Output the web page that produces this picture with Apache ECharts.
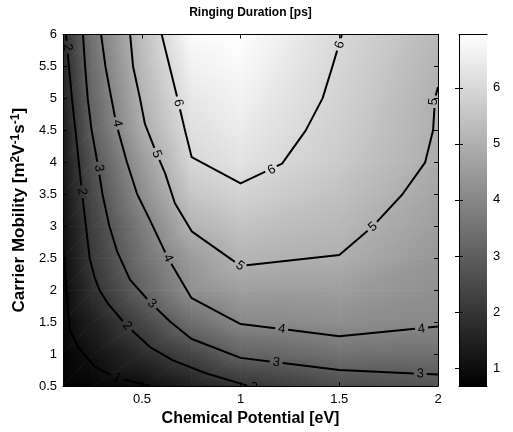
<!DOCTYPE html>
<html><head><meta charset="utf-8">
<script src="https://cdn.jsdelivr.net/npm/echarts@6/dist/echarts.min.js"></script>
<style>html,body{margin:0;padding:0;background:#fff}#c{width:513px;height:432px}</style>
</head><body><div id="c"></div>
<script>
// ---------------- data ----------------
const chemicalPotential = [0.1, 0.25, 0.5, 0.75, 1, 1.5, 2];
const carrierMobility = [0.5, 1, 1.5, 2, 2.5, 3, 3.5, 4, 4.5, 5, 5.5, 6];
// ringing duration [ps], one row per carrier mobility (bottom to top)
const ringingDuration = [
  [0.68, 0.79, 0.97, 1.45, 1.95, 2.53, 2.76],
  [0.76, 1.10, 1.74, 2.39, 3.10, 3.47, 3.43],
  [0.83, 1.44, 2.40, 3.40, 4.03, 4.17, 4.05],
  [0.90, 1.87, 3.09, 4.23, 4.58, 4.57, 4.20],
  [0.97, 2.10, 3.45, 4.49, 5.09, 4.97, 4.37],
  [1.05, 2.25, 3.72, 5.08, 5.48, 5.20, 4.55],
  [1.15, 2.46, 4.14, 5.55, 5.87, 5.43, 4.72],
  [1.25, 2.70, 4.47, 5.95, 6.25, 5.65, 4.90],
  [1.35, 3.04, 4.87, 6.17, 6.45, 5.77, 4.96],
  [1.50, 3.21, 5.05, 6.37, 6.62, 5.87, 4.99],
  [1.65, 3.36, 5.24, 6.60, 6.80, 5.94, 5.08],
  [1.80, 3.53, 5.38, 6.85, 6.95, 6.02, 5.20]
];
const colorRange = [0.68, 6.95];
const xTickValues = [0.5, 1, 1.5, 2];
const colorTickValues = [1, 2, 3, 4, 5, 6];
const contourLevels = [1, 2, 3, 4, 5, 6];
const contour1 = [[0.1,2.71],[0.12,1.89],[0.135,1.38],[0.176,1.11],[0.262,0.80],[0.374,0.625],[0.541,0.5]];
const contour2 = [[0.115,6],[0.13,5.5],[0.145,5.0],[0.163,4.5],[0.18,4.0],[0.197,3.5],[0.216,3.0],[0.235,2.5],[0.26,2.2],[0.285,2.0],[0.33,1.78],[0.424,1.44],[0.541,1.11],[0.657,0.90],[0.824,0.70],[1.04,0.5]];
const contour3 = [[0.201,6],[0.212,5.5],[0.225,5.0],[0.245,4.5],[0.28,3.9],[0.30,3.5],[0.335,3.0],[0.375,2.6],[0.44,2.16],[0.541,1.81],[0.642,1.51],[0.75,1.24],[1.0,0.94],[1.5,0.75],[2.0,0.68]];
const contour4 = [[0.293,6],[0.315,5.5],[0.345,5.0],[0.37,4.6],[0.424,4.0],[0.476,3.5],[0.54,3.1],[0.632,2.5],[0.75,1.88],[1.0,1.47],[1.5,1.28],[2.0,1.43]];
const contour5 = [[0.44,6],[0.455,5.5],[0.49,5.0],[0.515,4.6],[0.575,4.13],[0.617,3.83],[0.667,3.36],[0.752,2.92],[1.0,2.38],[1.5,2.55],[1.67,3.0],[1.82,3.5],[1.935,4.0],[1.975,4.5],[1.985,5.0],[2.0,5.18]];
const contour6 = [[0.6,6],[0.64,5.5],[0.68,5.0],[0.718,4.5],[0.752,4.08],[1.0,3.67],[1.21,3.98],[1.33,4.5],[1.415,5.0],[1.465,5.5],[1.513,6]];
const labels1 = [[0.374,0.625]];
const labels2 = [[0.122,5.80],[0.196,3.54],[0.424,1.44],[1.065,0.48]];
const labels3 = [[0.282,3.91],[0.55,1.79],[1.18,0.87],[1.91,0.69]];
const labels4 = [[0.374,4.61],[0.632,2.5],[1.208,1.39],[1.917,1.39]];
const labels5 = [[0.575,4.13],[0.997,2.38],[1.67,2.99],[1.977,4.95]];
const labels6 = [[0.684,4.93],[1.157,3.88],[1.503,5.84]];

// ---------------- helpers ----------------
const contourLines = [contour1, contour2, contour3, contour4, contour5, contour6];
const contourLabels = [labels1, labels2, labels3, labels4, labels5, labels6];
const FONT = '"Liberation Sans", Arial, Helvetica, sans-serif';
const cMin = colorRange[0], cMax = colorRange[1];

function grayOf(v){
  const t = Math.max(0, Math.min(1, (v - cMin) / (cMax - cMin)));
  const g = Math.round(t * 255);
  return 'rgb(' + g + ',' + g + ',' + g + ')';
}
function tri(p0, p1, p2){
  const d1x = p1.x - p0.x, d1y = p1.y - p0.y, d2x = p2.x - p0.x, d2y = p2.y - p0.y;
  const dv1 = p1.v - p0.v, dv2 = p2.v - p0.v;
  const det = d1x * d2y - d1y * d2x;
  const ga = (dv1 * d2y - dv2 * d1y) / det;
  const gb = (d1x * dv2 - d2x * dv1) / det;
  const g2 = ga * ga + gb * gb;
  let fill;
  if (!isFinite(g2) || g2 < 1e-12) fill = grayOf(p0.v);
  else {
    const s = (cMin - p0.v) / g2, e = (cMax - p0.v) / g2;
    fill = new echarts.graphic.LinearGradient(p0.x + ga * s, p0.y + gb * s, p0.x + ga * e, p0.y + gb * e,
      [{offset: 0, color: '#000'}, {offset: 1, color: '#fff'}], true);
  }
  return {type: 'polygon', shape: {points: [[p0.x, p0.y], [p1.x, p1.y], [p2.x, p2.y]]},
          style: {fill: fill, stroke: fill, lineWidth: 0.8}};
}
function renderCell(params, api){
  const i = api.value(2), j = api.value(3);
  const P = (ii, jj) => { const p = api.coord([chemicalPotential[ii], carrierMobility[jj]]);
    return {x: p[0], y: p[1], v: ringingDuration[jj][ii]}; };
  const a = P(i, j), b = P(i + 1, j), c = P(i + 1, j + 1), d = P(i, j + 1);
  return {type: 'group', children: [tri(a, b, c), tri(a, c, d)]};
}
function renderContour(params, api){
  const k = api.value(2);
  const pts = contourLines[k].map(p => api.coord(p));
  const centers = contourLabels[k].map(p => api.coord(p));
  const R = 6.5;
  const pieces = [];
  let cur = [];
  const flush = () => { if (cur.length >= 2) pieces.push(cur); cur = []; };
  for (let s = 0; s < pts.length - 1; s++) {
    const A = pts[s], B = pts[s + 1];
    const dx = B[0] - A[0], dy = B[1] - A[1];
    const at = t => [A[0] + dx * t, A[1] + dy * t];
    const ex = [];
    centers.forEach(C => {
      const fx = A[0] - C[0], fy = A[1] - C[1];
      const qa = dx * dx + dy * dy, qb = 2 * (fx * dx + fy * dy), qc = fx * fx + fy * fy - R * R;
      const disc = qb * qb - 4 * qa * qc;
      if (qa === 0 || disc <= 0) return;
      const sq = Math.sqrt(disc);
      const t1 = (-qb - sq) / (2 * qa), t2 = (-qb + sq) / (2 * qa);
      if (t2 <= 0 || t1 >= 1) return;
      ex.push([Math.max(0, t1), Math.min(1, t2)]);
    });
    ex.sort((u, w) => u[0] - w[0]);
    let pos = 0;
    const addVis = (t0, t1) => { if (cur.length === 0) cur.push(at(t0)); cur.push(at(t1)); };
    ex.forEach(e => {
      if (e[0] > pos) addVis(pos, e[0]);
      flush();
      pos = Math.max(pos, e[1]);
    });
    if (pos < 1) addVis(pos, 1);
  }
  flush();
  const children = pieces.map(pc => ({type: 'polyline', shape: {points: pc},
    style: {stroke: '#000', lineWidth: 2, fill: null, lineJoin: 'round'}}));
  centers.forEach(C => {
    let best = Infinity, ang = 0;
    for (let s = 0; s < pts.length - 1; s++) {
      const A = pts[s], B = pts[s + 1];
      const dx = B[0] - A[0], dy = B[1] - A[1];
      const L2 = dx * dx + dy * dy || 1;
      let t = ((C[0] - A[0]) * dx + (C[1] - A[1]) * dy) / L2;
      t = Math.max(0, Math.min(1, t));
      const px = A[0] + dx * t - C[0], py = A[1] + dy * t - C[1];
      const d = px * px + py * py;
      if (d < best) { best = d; ang = Math.atan2(-dy, dx); }
    }
    if (ang > Math.PI / 2) ang -= Math.PI;
    if (ang < -Math.PI / 2) ang += Math.PI;
    children.push({type: 'text', x: C[0], y: C[1], rotation: ang,
      style: {text: String(contourLevels[k]), fill: '#000', fontSize: 13, fontFamily: FONT,
              align: 'center', verticalAlign: 'middle', textAlign: 'center', textVerticalAlign: 'middle'}});
  });
  return {type: 'group', children: children};
}
function renderColorbar(params, api){
  const p0 = api.coord([api.value(0), api.value(1)]);
  const p1 = api.coord([api.value(2), api.value(3)]);
  return {type: 'rect', shape: {x: p0[0], y: p1[1], width: p1[0] - p0[0], height: p0[1] - p1[1]},
    style: {fill: new echarts.graphic.LinearGradient(0, 1, 0, 0,
      [{offset: 0, color: '#000'}, {offset: 1, color: '#fff'}])}};
}

const cells = [];
for (let j = 0; j < carrierMobility.length - 1; j++)
  for (let i = 0; i < chemicalPotential.length - 1; i++)
    cells.push([chemicalPotential[i], carrierMobility[j], i, j]);

const axLine = {show: true, lineStyle: {color: '#000', width: 1}};
const lbl = {color: '#000', fontSize: 13, fontFamily: FONT};
const chart = echarts.init(document.getElementById('c'), null, {renderer: 'canvas'});
chart.setOption({
  animation: false,
  backgroundColor: '#fff',
  graphic: [{type: 'text', x: 250.5, y: 13, z: 20,
    style: {text: 'Ringing Duration [ps]', fill: '#000', fontSize: 12, fontWeight: 'bold', fontFamily: FONT,
            align: 'center', verticalAlign: 'middle'}}],
  grid: [
    {left: 63, top: 34.5, width: 375, height: 351.5},
    {left: 459, top: 34.5, width: 28, height: 351.5}
  ],
  xAxis: [
    {gridIndex: 0, type: 'value', min: 0.1, max: 2, position: 'bottom', z: 10,
     axisLine: axLine, splitLine: {show: false},
     axisTick: {show: true, inside: true, length: 4, customValues: xTickValues, lineStyle: {color: '#000'}},
     axisLabel: Object.assign({customValues: xTickValues, margin: 7}, lbl),
     name: 'Chemical Potential [eV]', nameLocation: 'middle', nameGap: 24,
     nameTextStyle: {fontSize: 16, fontWeight: 'bold', color: '#000', fontFamily: FONT}},
    {gridIndex: 0, type: 'value', min: 0.1, max: 2, position: 'top', z: 10,
     axisLine: axLine, splitLine: {show: false},
     axisTick: {show: true, inside: true, length: 4, customValues: xTickValues, lineStyle: {color: '#000'}},
     axisLabel: {show: false}},
    {gridIndex: 1, type: 'value', min: 0, max: 1, position: 'bottom', z: 10,
     axisLine: axLine, axisTick: {show: false}, axisLabel: {show: false}, splitLine: {show: false}},
    {gridIndex: 1, type: 'value', min: 0, max: 1, position: 'top', z: 10,
     axisLine: axLine, axisTick: {show: false}, axisLabel: {show: false}, splitLine: {show: false}}
  ],
  yAxis: [
    {gridIndex: 0, type: 'value', min: 0.5, max: 6, interval: 0.5, position: 'left', z: 10,
     axisLine: axLine, splitLine: {show: false},
     axisTick: {show: true, inside: true, length: 4, lineStyle: {color: '#000'}},
     axisLabel: Object.assign({margin: 6}, lbl),
     name: '{b|Carrier Mobility [m}{s|2}{b|V}{s|-1}{b|s}{s|-1}{b|]}',
     nameLocation: 'middle', nameGap: 33, nameRotate: 90,
     nameTextStyle: {color: '#000', fontFamily: FONT, rich: {
       b: {fontSize: 17, fontWeight: 'bold', color: '#000', fontFamily: FONT},
       s: {fontSize: 12, fontWeight: 'bold', color: '#000', fontFamily: FONT, padding: [0, 0, 8, 0]}}}},
    {gridIndex: 0, type: 'value', min: 0.5, max: 6, interval: 0.5, position: 'right', z: 10,
     axisLine: axLine, splitLine: {show: false},
     axisTick: {show: true, inside: true, length: 4, lineStyle: {color: '#000'}},
     axisLabel: {show: false}},
    {gridIndex: 1, type: 'value', min: cMin, max: cMax, position: 'right', z: 10,
     axisLine: axLine, splitLine: {show: false},
     axisTick: {show: true, inside: true, length: 4, customValues: colorTickValues, lineStyle: {color: '#000'}},
     axisLabel: Object.assign({customValues: colorTickValues, margin: 6}, lbl)},
    {gridIndex: 1, type: 'value', min: cMin, max: cMax, position: 'left', z: 10,
     axisLine: axLine, splitLine: {show: false},
     axisTick: {show: true, inside: true, length: 4, customValues: colorTickValues, lineStyle: {color: '#000'}},
     axisLabel: {show: false}}
  ],
  series: [
    {type: 'custom', xAxisIndex: 0, yAxisIndex: 0, clip: true, renderItem: renderCell,
     data: cells, encode: {x: 0, y: 1}, silent: true},
    {type: 'custom', xAxisIndex: 0, yAxisIndex: 0, clip: true, renderItem: renderContour,
     data: contourLines.map((l, k) => [l[0][0], l[0][1], k]), encode: {x: 0, y: 1}, silent: true},
    {type: 'custom', xAxisIndex: 2, yAxisIndex: 2, renderItem: renderColorbar,
     data: [[0, cMin, 1, cMax]], encode: {x: [0, 2], y: [1, 3]}, silent: true}
  ]
});
</script></body></html>
